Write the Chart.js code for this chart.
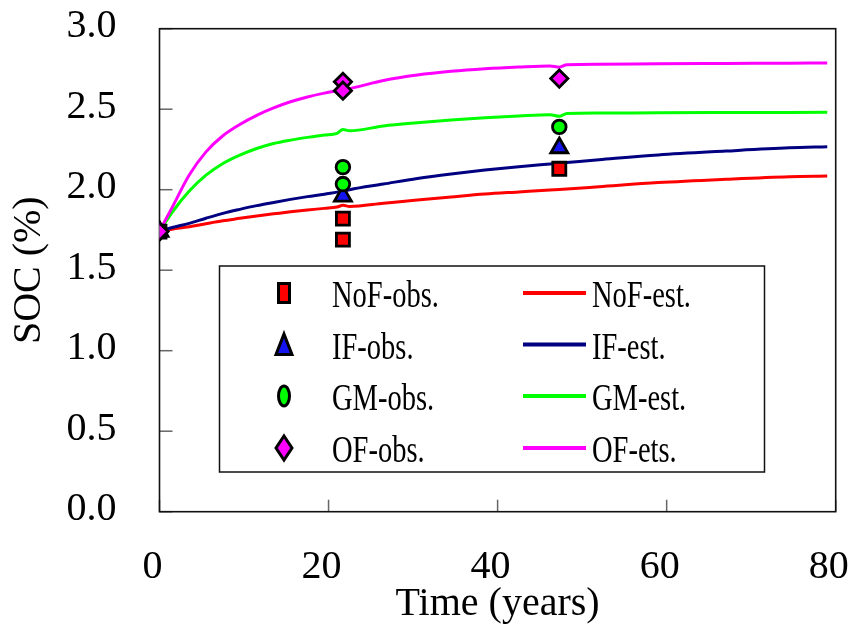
<!DOCTYPE html>
<html><head><meta charset="utf-8">
<script src="https://cdn.jsdelivr.net/npm/chart.js@4.4.1/dist/chart.umd.min.js"></script>
<style>html,body{margin:0;padding:0;background:#fff}#wrap{width:854px;height:624px;position:relative}</style>
</head><body><div id="wrap"><canvas id="c"></canvas></div>
<script>
// ---- data ----
const estTime = [0, 1.5, 3.5, 5.5, 7.5, 9.5, 11.5, 13.5, 15.5, 17.5, 19.5, 21, 21.7, 22.5, 26.5, 30.5, 34.5, 38.5, 42.5, 46.2, 47.3, 48.2, 52, 59, 67, 74.5, 79];
const nofEst = [1.742, 1.755, 1.770, 1.789, 1.807, 1.822, 1.837, 1.850, 1.863, 1.874, 1.884, 1.892, 1.903, 1.896, 1.916, 1.936, 1.955, 1.973, 1.986, 1.998, 2.001, 2.004, 2.018, 2.044, 2.065, 2.081, 2.085];
const ifEst  = [1.742, 1.765, 1.791, 1.823, 1.853, 1.878, 1.901, 1.921, 1.940, 1.957, 1.972, 1.985, 1.990, 2.000, 2.035, 2.070, 2.098, 2.122, 2.143, 2.160, 2.165, 2.169, 2.186, 2.216, 2.240, 2.260, 2.267];
const gmEst  = [1.742, 1.860, 1.990, 2.090, 2.163, 2.215, 2.256, 2.287, 2.308, 2.325, 2.340, 2.350, 2.374, 2.366, 2.396, 2.416, 2.433, 2.447, 2.458, 2.466, 2.456, 2.473, 2.476, 2.478, 2.479, 2.480, 2.481];
const ofEst  = [1.742, 1.890, 2.090, 2.235, 2.335, 2.405, 2.462, 2.508, 2.546, 2.576, 2.600, 2.614, 2.620, 2.628, 2.678, 2.712, 2.735, 2.751, 2.762, 2.769, 2.761, 2.776, 2.779, 2.782, 2.784, 2.786, 2.787];

const nofObsTime = [0, 21.7, 21.7, 47.3];
const nofObs     = [1.74, 1.82, 1.69, 2.13];
const ifObsTime  = [0, 21.7, 47.3];
const ifObs      = [1.74, 1.96, 2.26];
const gmObsTime  = [0, 21.7, 21.7, 47.3];
const gmObs      = [1.74, 2.14, 2.035, 2.39];
const ofObsTime  = [0, 21.7, 21.7, 47.3];
const ofObs      = [1.74, 2.67, 2.615, 2.69];

const obsLabels = ['NoF-obs.', 'IF-obs.', 'GM-obs.', 'OF-obs.'];
const estLabels = ['NoF-est.', 'IF-est.', 'GM-est.', 'OF-ets.'];
const xTicks = [0, 20, 40, 60, 80];
const yTicks = [0.0, 0.5, 1.0, 1.5, 2.0, 2.5, 3.0];
const xTitle = 'Time (years)';
const yTitle = 'SOC (%)';

// ---- build ----
const pts = (xs, ys) => xs.map((x, i) => ({x, y: ys[i]}));
const FONT = "'Liberation Serif', 'Times New Roman', serif";
Chart.defaults.font.family = FONT;
Chart.defaults.color = '#000';

const obsStyle = [
  {color: '#ff0000', style: 'rect', r: 9.2, order: 3},
  {color: '#1414f0', style: 'triangle', r: 9.8, order: 2},
  {color: '#00ff00', style: 'circle', r: 6.8, order: 1},
  {color: '#ff00ff', style: 'rectRot', r: 8.6, order: 0}
];
const estColors = ['#ff0000', '#000080', '#00ff00', '#ff00ff'];
const obsData = [pts(nofObsTime, nofObs), pts(ifObsTime, ifObs), pts(gmObsTime, gmObs), pts(ofObsTime, ofObs)];
const estData = [pts(estTime, nofEst), pts(estTime, ifEst), pts(estTime, gmEst), pts(estTime, ofEst)];

const datasets = [];
obsLabels.forEach((lab, i) => datasets.push({
  label: lab, data: obsData[i], showLine: false,
  pointStyle: obsStyle[i].style, pointRadius: obsStyle[i].r, pointHoverRadius: obsStyle[i].r,
  backgroundColor: obsStyle[i].color, borderColor: '#000', pointBorderWidth: 2.8,
  order: obsStyle[i].order, _kind: 'obs'
}));
estLabels.forEach((lab, i) => datasets.push({
  label: lab, data: estData[i], showLine: true, pointRadius: 0, pointHoverRadius: 0,
  borderColor: estColors[i], backgroundColor: estColors[i], borderWidth: 3,
  cubicInterpolationMode: 'monotone', order: 7 - i, _kind: 'est'
}));

const frame = {
  id: 'frame',
  beforeDatasetsDraw(chart) {
    const {ctx, chartArea: a, scales: {x, y}} = chart;
    ctx.save();
    ctx.strokeStyle = '#666'; ctx.lineWidth = 1.5;
    yTicks.forEach(v => { const p = y.getPixelForValue(v); ctx.beginPath(); ctx.moveTo(a.left, p); ctx.lineTo(a.left + 13, p); ctx.stroke(); });
    xTicks.forEach(v => { const p = x.getPixelForValue(v); ctx.beginPath(); ctx.moveTo(p, a.bottom); ctx.lineTo(p, a.bottom - 12); ctx.stroke(); });
    ctx.strokeStyle = '#111'; ctx.lineWidth = 1.6;
    ctx.strokeRect(a.left, a.top, a.right - a.left, a.bottom - a.top);
    ctx.restore();
  },
  afterDatasetsDraw(chart) {
    const ctx = chart.ctx;
    const box = {l: 219.5, t: 266, r: 764.5, b: 472};
    ctx.save();
    ctx.fillStyle = '#fff';
    ctx.fillRect(box.l, box.t, box.r - box.l, box.b - box.t);
    ctx.strokeStyle = '#111'; ctx.lineWidth = 1.5;
    ctx.strokeRect(box.l, box.t, box.r - box.l, box.b - box.t);
    const rowY = [293, 344.5, 396, 448];
    const ds = chart.data.datasets;
    const drawText = (txt, x, yb) => {
      ctx.save(); ctx.translate(x, yb); ctx.scale(0.75, 1);
      ctx.font = '38px ' + FONT; ctx.fillStyle = '#000'; ctx.textBaseline = 'alphabetic'; ctx.textAlign = 'left';
      ctx.fillText(txt, 0, 0); ctx.restore();
    };
    ds.forEach((d, i) => {
      const row = i % 4, cy = rowY[row];
      if (d._kind === 'obs') {
        const cx = 284;
        ctx.save();
        ctx.fillStyle = d.backgroundColor; ctx.strokeStyle = '#000'; ctx.lineWidth = 3; ctx.lineJoin = 'miter';
        ctx.beginPath();
        if (d.pointStyle === 'rect') ctx.rect(cx - 5.5, cy - 9.5, 11, 19);
        else if (d.pointStyle === 'triangle') { ctx.moveTo(cx, cy - 10.5); ctx.lineTo(cx + 8, cy + 10); ctx.lineTo(cx - 8, cy + 10); ctx.closePath(); }
        else if (d.pointStyle === 'circle') ctx.ellipse(cx, cy, 5.5, 10, 0, 0, Math.PI * 2);
        else { ctx.moveTo(cx, cy - 12); ctx.lineTo(cx + 8, cy); ctx.lineTo(cx, cy + 12); ctx.lineTo(cx - 8, cy); ctx.closePath(); }
        ctx.fill(); ctx.stroke(); ctx.restore();
        drawText(d.label, 332, cy + 14);
      } else {
        ctx.save(); ctx.strokeStyle = d.borderColor; ctx.lineWidth = 4;
        ctx.beginPath(); ctx.moveTo(523, cy); ctx.lineTo(586, cy); ctx.stroke(); ctx.restore();
        drawText(d.label, 592, cy + 14);
      }
    });
    ctx.restore();
  }
};

const zeroPad = s => { s.paddingTop = 0; s.paddingBottom = 0; s.paddingLeft = 0; s.paddingRight = 0; };

new Chart(document.getElementById('c'), {
  type: 'scatter',
  data: {datasets},
  options: {
    responsive: true, maintainAspectRatio: false, animation: false, devicePixelRatio: 1,
    layout: {padding: {top: 28.7, right: 18.3, left: 0, bottom: 0}},
    plugins: {legend: {display: false}, tooltip: {enabled: false}},
    scales: {
      x: {
        type: 'linear', min: 0, max: 80,
        afterBuildTicks: s => { s.ticks = xTicks.map(v => ({value: v})); },
        afterFit: s => { s.height = 112.3; zeroPad(s); },
        grid: {display: false, drawTicks: false},
        border: {display: false},
        ticks: {font: {size: 40, lineHeight: 1.2}, padding: 32, labelOffset: -7, maxRotation: 0, autoSkip: false, color: '#000'},
        title: {display: true, text: xTitle, font: {size: 40, lineHeight: 1}, padding: {top: 0, bottom: 0}, color: '#000'}
      },
      y: {
        type: 'linear', min: 0, max: 3,
        afterBuildTicks: s => { s.ticks = yTicks.map(v => ({value: v})); },
        afterFit: s => { s.width = 159.5; zeroPad(s); },
        grid: {display: false, drawTicks: false},
        border: {display: false},
        ticks: {font: {size: 40, lineHeight: 1.2}, padding: 43, labelOffset: -2, autoSkip: false, color: '#000', callback: v => Number(v).toFixed(1)},
        title: {display: true, text: yTitle, font: {size: 40, lineHeight: 1}, padding: {top: 9.5, bottom: 0}, color: '#000'}
      }
    }
  },
  plugins: [frame]
});
</script>
</body></html>
